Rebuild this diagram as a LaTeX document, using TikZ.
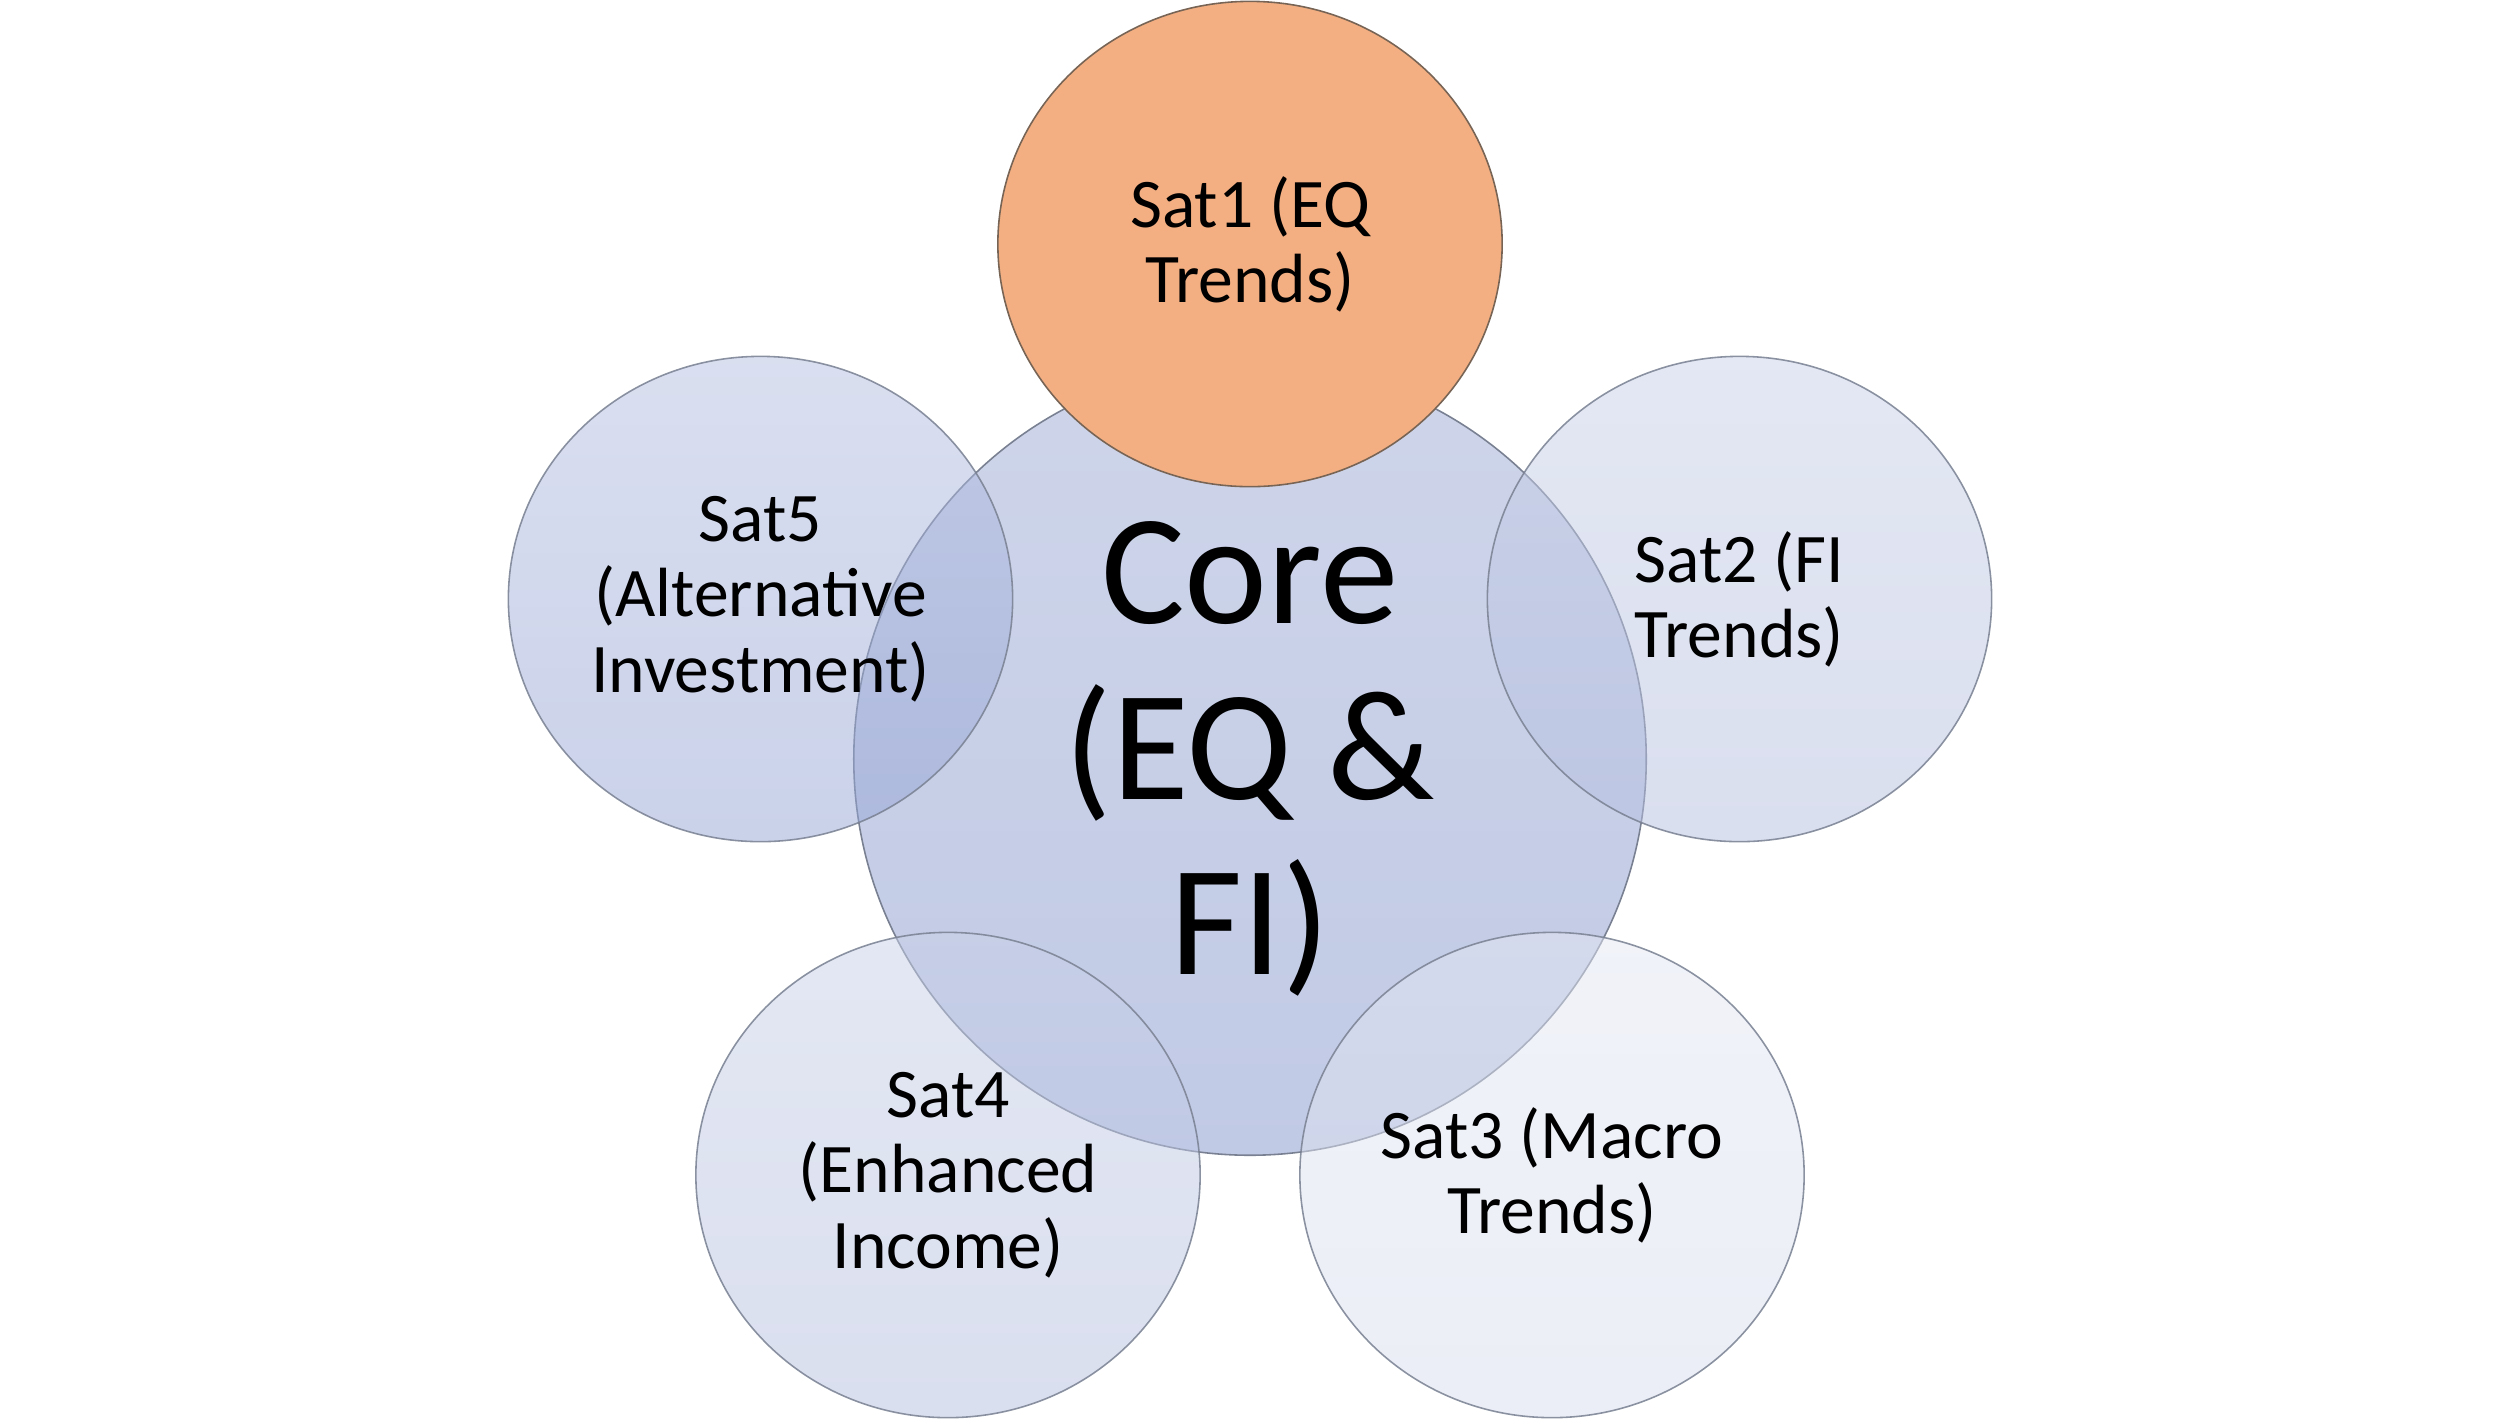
\documentclass[tikz,border=0pt]{standalone}
\usepackage{fontspec}
\setmainfont{Carlito}
\usetikzlibrary{shapes.geometric}
\definecolor{coretop}{RGB}{206,213,234}
\definecolor{corebot}{RGB}{193,202,229}
\definecolor{sattop}{RGB}{181,191,225}
\definecolor{satbot}{RGB}{149,165,213}
\definecolor{stwotop}{RGB}{201,209,233}
\definecolor{stwobot}{RGB}{181,191,223}
\definecolor{sthrtop}{RGB}{227,231,243}
\definecolor{sthrbot}{RGB}{215,221,237}
\definecolor{sonefill}{RGB}{243,175,130}
\definecolor{soneline}{RGB}{120,100,85}
\definecolor{satline}{RGB}{120,128,145}
\begin{document}
\begin{tikzpicture}[x=0.01cm,y=-0.01cm,
  bubble/.style={ellipse, draw=satline, line width=0.45pt, inner sep=0pt, align=center},
  satnode/.style={bubble, minimum width=5.04cm, minimum height=4.85cm,
    font=\fontsize{19.8}{21.4}\selectfont, fill opacity=0.5, text opacity=1, draw opacity=0.85},
  corenode/.style={bubble, minimum width=7.92cm, minimum height=7.92cm,
    top color=coretop, bottom color=corebot, font=\fontsize{44.7}{50}\selectfont},
  firstsat/.style={bubble, minimum width=5.04cm, minimum height=4.85cm, draw=soneline,
    fill=sonefill, font=\fontsize{19.8}{21.4}\selectfont}]
\useasboundingbox (0,0) rectangle (2500,1420);
\node[corenode] (core) at (1250,759) {Core\\(EQ \&\\FI)};
\node[satnode, top color=stwotop, bottom color=stwobot] (sat2) at (1739.5,599) {Sat2 (FI\\Trends)};
\node[satnode, top color=sthrtop, bottom color=sthrbot] (sat3) at (1552,1175) {Sat3 (Macro\\Trends)};
\node[satnode, top color=stwotop, bottom color=stwobot] (sat4) at (948,1175) {Sat4\\(Enhanced\\Income)};
\node[satnode, top color=sattop, bottom color=satbot] (sat5) at (760.5,599) {Sat5\\(Alternative\\Investment)};
\node[firstsat] (sat1) at (1250,244) {Sat1 (EQ\\Trends)};
\end{tikzpicture}
\end{document}
